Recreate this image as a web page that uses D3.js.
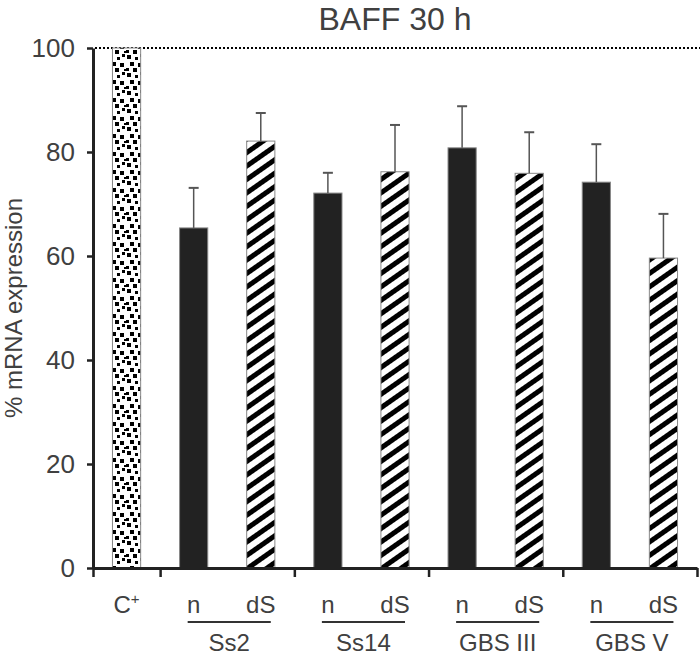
<!DOCTYPE html>
<html>
<head>
<meta charset="utf-8">
<script src="https://cdn.jsdelivr.net/npm/d3@7"></script>
<style>
  body { margin: 0; background: #fff; }
  text { font-family: "Liberation Sans", Arial, sans-serif; fill: #404040; }
</style>
</head>
<body>
<svg id="canvas"></svg>
<script>
// data
let bars = ['C+', 'Ss2 n', 'Ss2 dS', 'Ss14 n', 'Ss14 dS', 'GBS III n', 'GBS III dS', 'GBS V n', 'GBS V dS']
let kinds = ['ctrl', 'n', 'dS', 'n', 'dS', 'n', 'dS', 'n', 'dS']
let values = [100, 65.4, 82.1, 72.1, 76.2, 80.8, 75.9, 74.2, 59.6]
let errors = [0, 7.7, 5.4, 3.9, 9.0, 8.0, 7.9, 7.3, 8.5]
let groups = ['Ss2', 'Ss14', 'GBS III', 'GBS V']
let yTicks = [0, 20, 40, 60, 80, 100]

let width = 700
let height = 655

let svg = d3.select('#canvas')
svg.attr('width', width).attr('height', height)

let defs = svg.append('defs')

// diagonal stripes for dS bars
let stripes = defs.append('pattern')
    .attr('id', 'stripes')
    .attr('patternUnits', 'userSpaceOnUse')
    .attr('width', 11)
    .attr('height', 11)
    .attr('patternTransform', 'rotate(-35)')
stripes.append('rect').attr('width', 11).attr('height', 11).attr('fill', '#fff')
stripes.append('rect').attr('width', 11).attr('height', 5).attr('fill', '#000')

// speckle pattern for the control bar
let dots = defs.append('pattern')
    .attr('id', 'dots')
    .attr('patternUnits', 'userSpaceOnUse')
    .attr('width', 18)
    .attr('height', 18)
dots.append('rect').attr('width', 18).attr('height', 18).attr('fill', '#fff')
let specks = [[1, 1, 4], [9, 3, 3], [14, 0, 3], [4, 8, 4], [12, 9, 4], [0, 14, 3], [7, 14, 4], [16, 15, 2]]
specks.forEach(s => {
    dots.append('rect').attr('x', s[0]).attr('y', s[1]).attr('width', s[2]).attr('height', s[2]).attr('fill', '#000')
})

let xScale = d3.scaleBand()
    .domain(bars)
    .range([93, 697])
    .paddingInner(0.58)
    .paddingOuter(0.29)

let yScale = d3.scaleLinear()
    .domain([0, 100])
    .range([568, 48])

// reference line at 100 %
svg.append('line')
    .attr('x1', 95).attr('x2', 700)
    .attr('y1', yScale(100)).attr('y2', yScale(100))
    .attr('stroke', '#000')
    .attr('stroke-width', 2)
    .attr('stroke-dasharray', '2,2')

let fills = { ctrl: 'url(#dots)', n: '#222', dS: 'url(#stripes)' }

svg.selectAll('.bar')
    .data(bars)
    .enter()
    .append('rect')
    .attr('class', 'bar')
    .attr('x', d => xScale(d))
    .attr('width', xScale.bandwidth())
    .attr('y', (d, i) => yScale(values[i]))
    .attr('height', (d, i) => yScale(0) - yScale(values[i]))
    .attr('fill', (d, i) => fills[kinds[i]])
    .attr('stroke', '#888')
    .attr('stroke-width', 1)

// error bars (upper only)
let err = svg.selectAll('.err')
    .data(bars.filter((d, i) => errors[i] > 0))
    .enter()
    .append('g')
    .attr('class', 'err')
    .attr('stroke', '#555')
err.append('line')
    .attr('x1', d => xScale(d) + xScale.bandwidth() / 2)
    .attr('x2', d => xScale(d) + xScale.bandwidth() / 2)
    .attr('y1', d => yScale(values[bars.indexOf(d)]))
    .attr('y2', d => { let i = bars.indexOf(d); return yScale(values[i] + errors[i]) })
    .attr('stroke-width', 1.5)
err.append('line')
    .attr('x1', d => xScale(d) + xScale.bandwidth() / 2 - 5)
    .attr('x2', d => xScale(d) + xScale.bandwidth() / 2 + 5)
    .attr('y1', d => { let i = bars.indexOf(d); return yScale(values[i] + errors[i]) })
    .attr('y2', d => { let i = bars.indexOf(d); return yScale(values[i] + errors[i]) })
    .attr('stroke-width', 2)

// axes
let yAxis = d3.axisLeft(yScale)
    .tickValues(yTicks)
    .tickSizeInner(6)
    .tickSizeOuter(0)
    .tickPadding(12)

let gy = svg.append('g')
    .attr('transform', 'translate(93, 0)')
    .call(yAxis)
gy.select('.domain').attr('stroke', '#222').attr('stroke-width', 3)
gy.selectAll('.tick line').attr('stroke', '#222').attr('stroke-width', 2.5)
gy.selectAll('.tick text').style('font-size', '26px').attr('fill', '#404040')

let sepScale = d3.scaleLinear().domain([0, bars.length]).range([93, 697])
let xAxis = d3.axisBottom(sepScale)
    .tickValues([0, 1, 3, 5, 7, 9])
    .tickFormat('')
    .tickSizeInner(9)
    .tickSizeOuter(0)

let gx = svg.append('g')
    .attr('transform', 'translate(0, 568)')
    .call(xAxis)
gx.select('.domain').attr('stroke', '#222').attr('stroke-width', 3)
gx.selectAll('.tick line').attr('stroke', '#222').attr('stroke-width', 2.5)

// x labels
let center = d => xScale(d) + xScale.bandwidth() / 2

let ctrl = svg.append('text')
    .attr('x', center('C+'))
    .attr('y', 613)
    .attr('text-anchor', 'middle')
    .style('font-size', '24px')
ctrl.append('tspan').text('C')
ctrl.append('tspan').text('+').style('font-size', '15px').attr('dy', -9)

groups.forEach((g, k) => {
    let nBar = bars[1 + k * 2]
    let dBar = bars[2 + k * 2]
    svg.append('text')
        .attr('x', center(nBar)).attr('y', 613)
        .attr('text-anchor', 'middle')
        .style('font-size', '24px')
        .text('n')
    svg.append('text')
        .attr('x', center(dBar)).attr('y', 613)
        .attr('text-anchor', 'middle')
        .style('font-size', '24px')
        .text('dS')
    svg.append('line')
        .attr('x1', center(nBar) - 6).attr('x2', center(dBar) + 10)
        .attr('y1', 622).attr('y2', 622)
        .attr('stroke', '#333')
        .attr('stroke-width', 2)
    svg.append('text')
        .attr('x', (center(nBar) + center(dBar)) / 2 + 2).attr('y', 651)
        .attr('text-anchor', 'middle')
        .style('font-size', '24px')
        .text(g)
})

// titles
svg.append('text')
    .attr('x', 395).attr('y', 30)
    .attr('text-anchor', 'middle')
    .style('font-size', '32px')
    .text('BAFF 30 h')

svg.append('text')
    .attr('transform', 'translate(22, 308) rotate(-90)')
    .attr('text-anchor', 'middle')
    .style('font-size', '24px')
    .text('% mRNA expression')
</script>
</body>
</html>
